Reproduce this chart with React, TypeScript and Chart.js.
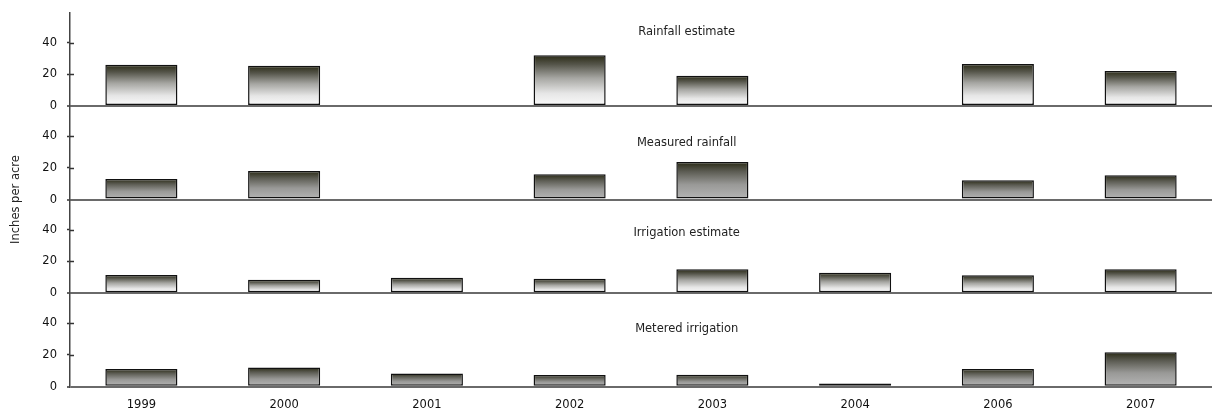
import { useEffect, useRef } from 'react';
import { Chart, registerables } from 'chart.js';

Chart.register(...registerables);

// ---- data ----
const YEARS = ['1999', '2000', '2001', '2002', '2003', '2004', '2006', '2007'];
const RAINFALL_ESTIMATE = [26, 25.3, null, 32, 19, null, 26.5, 22];
const MEASURED_RAINFALL = [13, 18, null, 16, 23.6, null, 12.2, 15.4];
const IRRIGATION_ESTIMATE = [11.5, 8.4, 9.7, 9.1, 15, 12.9, 11.2, 15];
const METERED_IRRIGATION = [11.2, 12.1, 8.4, 7.4, 7.6, 2, 11.2, 21.7];
const PANEL_TITLES = ['Rainfall estimate', 'Measured rainfall', 'Irrigation estimate', 'Metered irrigation'];
const Y_TICKS = [0, 20, 40];
const Y_MAX = 59;
const Y_TITLE = 'Inches per acre';

// ---- styles / layout ----
const FONT = '"DejaVu Sans"';
const FONT_SIZE = 11.5;
const PANEL_LIGHT = [true, false, true, false];
const PANEL_TITLE_OFFSETS = [19.6, 37, 33.3, 35.7];
const TITLE_X_FRACTION = 0.54;
const AXIS_WIDTH = 70;
const X_AXIS_HEIGHT = 26.3;

const SERIES = [RAINFALL_ESTIMATE, MEASURED_RAINFALL, IRRIGATION_ESTIMATE, METERED_IRRIGATION];

function gradientFor(axisId: string, light: boolean) {
  return (ctx: any) => {
    if (ctx.type !== 'data') return '#888';
    const v = ctx.parsed ? ctx.parsed.y : null;
    if (v == null || !isFinite(v)) return '#888';
    const chart = ctx.chart;
    const scale = chart.scales[axisId];
    if (!scale) return '#888';
    const top = scale.getPixelForValue(v);
    const base = scale.getPixelForValue(0);
    if (!isFinite(top) || !isFinite(base) || base - top < 5) return '#222218';
    const g = chart.ctx.createLinearGradient(0, top, 0, base);
    if (light) {
      g.addColorStop(0, '#2a2a15');
      g.addColorStop(0.18, '#55554a');
      g.addColorStop(0.45, '#a6a6a2');
      g.addColorStop(0.75, '#e6e6e6');
      g.addColorStop(1, '#fbfbfb');
    } else {
      g.addColorStop(0, '#2a2a15');
      g.addColorStop(0.25, '#5c5c53');
      g.addColorStop(0.6, '#999997');
      g.addColorStop(1, '#b6b6b6');
    }
    return g;
  };
}

const overlayPlugin = {
  id: 'overlay',
  afterDraw(chart: any) {
    const { ctx, chartArea } = chart;
    ctx.save();
    // inner halves of the y tick marks
    ctx.strokeStyle = '#333';
    ctx.lineWidth = 1.5;
    PANEL_TITLES.forEach((_, i) => {
      const s = chart.scales['y' + i];
      if (!s) return;
      Y_TICKS.forEach((v) => {
        if (v === 0) return;
        const y = Math.round(s.getPixelForValue(v)) + 0.5;
        ctx.beginPath();
        ctx.moveTo(chartArea.left, y);
        ctx.lineTo(chartArea.left + 4, y);
        ctx.stroke();
      });
    });
    // panel titles
    ctx.font = `${FONT_SIZE}px ${FONT}`;
    ctx.fillStyle = '#222';
    ctx.textAlign = 'center';
    ctx.textBaseline = 'middle';
    PANEL_TITLES.forEach((t, i) => {
      const s = chart.scales['y' + i];
      if (!s) return;
      const x = chartArea.left + chartArea.width * TITLE_X_FRACTION;
      ctx.fillText(t, x, s.top + PANEL_TITLE_OFFSETS[i]);
    });
    // shared y-axis title
    ctx.translate(16, (chartArea.top + chartArea.bottom) / 2);
    ctx.rotate(-Math.PI / 2);
    ctx.fillText(Y_TITLE, 0, 0);
    ctx.restore();
  },
};

function yAxis(i: number) {
  return {
    type: 'linear',
    position: 'left',
    stack: 'panels',
    stackWeight: 1,
    weight: 4 - i,
    offset: false,
    min: 0,
    max: Y_MAX,
    afterBuildTicks: (scale: any) => {
      scale.ticks = Y_TICKS.map((v) => ({ value: v }));
    },
    afterFit: (scale: any) => {
      scale.width = AXIS_WIDTH;
      scale.paddingTop = 0;
      scale.paddingBottom = 0;
    },
    grid: {
      drawTicks: true,
      tickLength: 3,
      tickColor: '#333',
      tickWidth: 1.5,
      color: (c: any) => (c.tick && c.tick.value === 0 ? '#6a6a6a' : 'rgba(0,0,0,0)'),
      lineWidth: (c: any) => (c.tick && c.tick.value === 0 ? 2 : 1),
    },
    border: { display: true, color: '#444', width: 1.5 },
    ticks: {
      font: { family: FONT, size: FONT_SIZE },
      color: '#111',
      padding: 10,
    },
  };
}

export default function App() {
  const ref = useRef<HTMLCanvasElement>(null);

  useEffect(() => {
    document.body.style.margin = '0';
    const canvas = ref.current;
    if (!canvas) return;
    const scales: any = {
      x: {
        type: 'category',
        position: 'bottom',
        offset: true,
        grid: { display: false, drawTicks: false },
        border: { display: false },
        ticks: {
          font: { family: FONT, size: FONT_SIZE },
          color: '#111',
          padding: 11,
          maxRotation: 0,
          autoSkip: false,
        },
        afterFit: (scale: any) => {
          scale.height = X_AXIS_HEIGHT;
          scale.paddingLeft = 0;
          scale.paddingRight = 0;
        },
      },
    };
    PANEL_TITLES.forEach((_, i) => {
      scales['y' + i] = yAxis(i);
    });

    const chart = new Chart(canvas, {
      type: 'bar',
      data: {
        labels: YEARS,
        datasets: SERIES.map((data, i) => ({
          label: PANEL_TITLES[i],
          data,
          yAxisID: 'y' + i,
          grouped: false,
          backgroundColor: gradientFor('y' + i, PANEL_LIGHT[i]),
          borderColor: '#111',
          borderWidth: 1.5,
          borderSkipped: false,
          categoryPercentage: 0.505,
          barPercentage: 1,
        })) as any,
      },
      options: {
        responsive: false,
        animation: false,
        devicePixelRatio: 1,
        layout: { padding: { top: 12.4, left: 0, right: 0, bottom: 0 } },
        plugins: {
          legend: { display: false },
          tooltip: { enabled: false },
        },
        scales,
      } as any,
      plugins: [overlayPlugin],
    });
    return () => chart.destroy();
  }, []);

  return (
    <div style={{ width: 1212, height: 413, position: 'relative' }}>
      <canvas ref={ref} width={1212} height={413} style={{ display: 'block' }} />
    </div>
  );
}
